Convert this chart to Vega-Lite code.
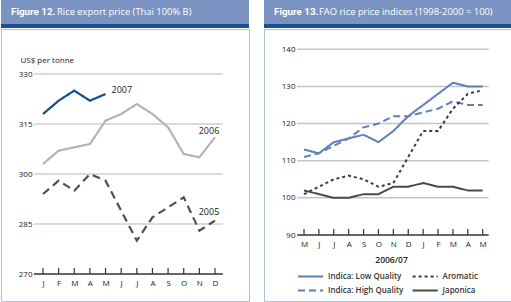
{
  "$schema": "https://vega.github.io/schema/vega-lite/v6.json",
  "padding": 0,
  "background": "white",
  "config": {
    "font": "Open Sans",
    "view": {"stroke": null},
    "axis": {"labelColor": "#222", "titleColor": "#222", "labelFont": "Open Sans", "titleFont": "Open Sans", "labelOverlap": false, "labelFlush": false, "domain": false, "ticks": false, "grid": false, "labelFontSize": 8},
    "legend": {"labelFont": "Open Sans"}
  },
  "resolve": {"scale": {"x": "independent", "y": "independent", "color": "independent", "strokeDash": "independent"}},
  "spacing": 13,
  "hconcat": [
    {
      "spacing": 0,
      "vconcat": [
        {
          "width": 248, "height": 24,
          "view": {"fill": "#7b93c3", "stroke": null},
          "data": {"values": [{"fig": "Figure 12.", "ttl": "Rice export price (Thai 100% B)"}]},
          "layer": [
            {"mark": {"type": "text", "align": "left", "baseline": "middle", "dx": 10, "font": "Roboto", "fontSize": 9.8, "fontWeight": "bold", "color": "white"},
             "encoding": {"text": {"field": "fig"}, "x": {"datum": 0, "type": "quantitative", "scale": {"domain": [0, 1]}, "axis": null}}},
            {"mark": {"type": "text", "align": "left", "baseline": "middle", "dx": 56, "fontSize": 9.4, "color": "white"},
             "encoding": {"text": {"field": "ttl"}, "x": {"datum": 0, "type": "quantitative", "axis": null}}}
          ]
        },
        {
          "width": 248, "height": 4,
          "view": {"fill": "#1c4f8d", "stroke": null},
          "data": {"values": [{"t": ""}]},
          "mark": {"type": "text", "fontSize": 0},
          "encoding": {"text": {"field": "t"}}
        },
        {
          "width": 248, "height": 272,
          "view": {"fill": "white", "stroke": "#a9c1da", "strokeWidth": 1},
          "data": {"values": [
            {"yr": "2007", "m": 0, "v": 318}, {"yr": "2007", "m": 1, "v": 322}, {"yr": "2007", "m": 2, "v": 325}, {"yr": "2007", "m": 3, "v": 322}, {"yr": "2007", "m": 4, "v": 324},
            {"yr": "2006", "m": 0, "v": 303}, {"yr": "2006", "m": 1, "v": 307}, {"yr": "2006", "m": 2, "v": 308}, {"yr": "2006", "m": 3, "v": 309}, {"yr": "2006", "m": 4, "v": 316}, {"yr": "2006", "m": 5, "v": 318},
            {"yr": "2006", "m": 6, "v": 321}, {"yr": "2006", "m": 7, "v": 318}, {"yr": "2006", "m": 8, "v": 314}, {"yr": "2006", "m": 9, "v": 306}, {"yr": "2006", "m": 10, "v": 305}, {"yr": "2006", "m": 11, "v": 311},
            {"yr": "2005", "m": 0, "v": 294}, {"yr": "2005", "m": 1, "v": 298}, {"yr": "2005", "m": 2, "v": 295}, {"yr": "2005", "m": 3, "v": 300}, {"yr": "2005", "m": 4, "v": 298}, {"yr": "2005", "m": 5, "v": 289},
            {"yr": "2005", "m": 6, "v": 280}, {"yr": "2005", "m": 7, "v": 287}, {"yr": "2005", "m": 8, "v": 290}, {"yr": "2005", "m": 9, "v": 293}, {"yr": "2005", "m": 10, "v": 283}, {"yr": "2005", "m": 11, "v": 286}
          ]},
          "layer": [
            {"data": {"values": [{"g": 285}, {"g": 300}, {"g": 315}, {"g": 330}]},
             "mark": {"type": "rule", "color": "#b8b8b8", "strokeWidth": 1},
             "encoding": {
               "y": {"field": "g", "type": "quantitative", "scale": {"domain": [261.9, 343.5], "nice": false, "zero": false},
                     "axis": {"values": [270,285,300,315,330], "offset": -33, "labelPadding": 2,
                              "title": "US$ per tonne", "titleAngle": 0, "titleAlign": "left", "titleBaseline": "alphabetic", "titleX": -14, "titleY": 33, "titleFontSize": 8, "titleFontWeight": "normal"}},
               "x": {"datum": -0.58, "type": "quantitative", "scale": {"domain": [-2.686, 13.175], "nice": false, "zero": false},
                     "axis": {"values": [0,1,2,3,4,5,6,7,8,9,10,11], "tickCount": 20, "labelOverlap": false, "labelExpr": "['J','F','M','A','M','J','J','A','S','O','N','D'][datum.value] || ''", "offset": -27, "labelPadding": 5, "title": null}},
               "x2": {"datum": 11.5}}},
            {"data": {"values": [{"g": 270}]},
             "mark": {"type": "rule", "color": "#333", "strokeWidth": 1.3},
             "encoding": {"y": {"field": "g", "type": "quantitative"}, "x": {"datum": -0.58}, "x2": {"datum": 11.5}}},
            {"transform": [{"filter": "datum.yr == '2006'"}],
             "mark": {"type": "rule", "color": "#333", "strokeWidth": 1.2},
             "encoding": {"x": {"field": "m", "type": "quantitative"}, "y": {"datum": 270}, "y2": {"datum": 271.8}}},
            {"mark": {"type": "line", "strokeWidth": 2.2},
             "encoding": {
               "x": {"field": "m", "type": "quantitative",
                     "axis": {"values": [0,1,2,3,4,5,6,7,8,9,10,11], "tickCount": 20, "labelOverlap": false, "labelExpr": "['J','F','M','A','M','J','J','A','S','O','N','D'][datum.value] || ''", "offset": -27, "labelPadding": 5, "title": null}},
               "y": {"field": "v", "type": "quantitative"},
               "color": {"field": "yr", "type": "nominal", "scale": {"domain": ["2007", "2006", "2005"], "range": ["#0f4e91", "#b4b4b4", "#505050"]}, "legend": null},
               "strokeDash": {"field": "yr", "type": "nominal", "scale": {"domain": ["2007", "2006", "2005"], "range": [[1, 0], [1, 0], [8, 5]]}, "legend": null}
             }},
            {"transform": [{"filter": "datum.yr == '2007' && datum.m == 4"}],
             "mark": {"type": "text", "align": "left", "baseline": "middle", "dx": 6, "dy": -4, "fontSize": 9, "color": "#222"},
             "encoding": {"x": {"field": "m", "type": "quantitative"}, "y": {"field": "v", "type": "quantitative"}, "text": {"field": "yr"}}},
            {"transform": [{"filter": "datum.yr == '2006' && datum.m == 11"}],
             "mark": {"type": "text", "align": "center", "baseline": "middle", "dx": -6, "dy": -6, "fontSize": 9, "color": "#222"},
             "encoding": {"x": {"field": "m", "type": "quantitative"}, "y": {"field": "v", "type": "quantitative"}, "text": {"field": "yr"}}},
            {"transform": [{"filter": "datum.yr == '2005' && datum.m == 11"}],
             "mark": {"type": "text", "align": "center", "baseline": "middle", "dx": -6, "dy": -9, "fontSize": 9, "color": "#222"},
             "encoding": {"x": {"field": "m", "type": "quantitative"}, "y": {"field": "v", "type": "quantitative"}, "text": {"field": "yr"}}}
          ]
        }
      ]
    },
    {
      "spacing": 0,
      "vconcat": [
        {
          "width": 249, "height": 24,
          "view": {"fill": "#7b93c3", "stroke": null},
          "data": {"values": [{"fig": "Figure 13.", "ttl": "FAO rice price indices (1998-2000 = 100)"}]},
          "layer": [
            {"mark": {"type": "text", "align": "left", "baseline": "middle", "dx": 10, "font": "Roboto", "fontSize": 9.8, "fontWeight": "bold", "color": "white"},
             "encoding": {"text": {"field": "fig"}, "x": {"datum": 0, "type": "quantitative", "scale": {"domain": [0, 1]}, "axis": null}}},
            {"mark": {"type": "text", "align": "left", "baseline": "middle", "dx": 55, "fontSize": 9.4, "color": "white"},
             "encoding": {"text": {"field": "ttl"}, "x": {"datum": 0, "type": "quantitative", "axis": null}}}
          ]
        },
        {
          "width": 249, "height": 4,
          "view": {"fill": "#1c4f8d", "stroke": null},
          "data": {"values": [{"t": ""}]},
          "mark": {"type": "text", "fontSize": 0},
          "encoding": {"text": {"field": "t"}}
        },
        {
          "width": 249, "height": 272,
          "view": {"fill": "white", "stroke": "#a9c1da", "strokeWidth": 1},
          "data": {"values": [
            {"q": "Indica: Low Quality", "m": 0, "v": 113}, {"q": "Indica: Low Quality", "m": 1, "v": 112}, {"q": "Indica: Low Quality", "m": 2, "v": 115}, {"q": "Indica: Low Quality", "m": 3, "v": 116}, {"q": "Indica: Low Quality", "m": 4, "v": 117}, {"q": "Indica: Low Quality", "m": 5, "v": 115}, {"q": "Indica: Low Quality", "m": 6, "v": 118}, {"q": "Indica: Low Quality", "m": 7, "v": 122}, {"q": "Indica: Low Quality", "m": 8, "v": 125}, {"q": "Indica: Low Quality", "m": 9, "v": 128}, {"q": "Indica: Low Quality", "m": 10, "v": 131}, {"q": "Indica: Low Quality", "m": 11, "v": 130}, {"q": "Indica: Low Quality", "m": 12, "v": 130},
            {"q": "Indica: High Quality", "m": 0, "v": 111}, {"q": "Indica: High Quality", "m": 1, "v": 112}, {"q": "Indica: High Quality", "m": 2, "v": 114}, {"q": "Indica: High Quality", "m": 3, "v": 116}, {"q": "Indica: High Quality", "m": 4, "v": 119}, {"q": "Indica: High Quality", "m": 5, "v": 120}, {"q": "Indica: High Quality", "m": 6, "v": 122}, {"q": "Indica: High Quality", "m": 7, "v": 122}, {"q": "Indica: High Quality", "m": 8, "v": 123}, {"q": "Indica: High Quality", "m": 9, "v": 124}, {"q": "Indica: High Quality", "m": 10, "v": 126}, {"q": "Indica: High Quality", "m": 11, "v": 125}, {"q": "Indica: High Quality", "m": 12, "v": 125},
            {"q": "Aromatic", "m": 0, "v": 101}, {"q": "Aromatic", "m": 1, "v": 103}, {"q": "Aromatic", "m": 2, "v": 105}, {"q": "Aromatic", "m": 3, "v": 106}, {"q": "Aromatic", "m": 4, "v": 105}, {"q": "Aromatic", "m": 5, "v": 103}, {"q": "Aromatic", "m": 6, "v": 104}, {"q": "Aromatic", "m": 7, "v": 111}, {"q": "Aromatic", "m": 8, "v": 118}, {"q": "Aromatic", "m": 9, "v": 118}, {"q": "Aromatic", "m": 10, "v": 124}, {"q": "Aromatic", "m": 11, "v": 128}, {"q": "Aromatic", "m": 12, "v": 129},
            {"q": "Japonica", "m": 0, "v": 102}, {"q": "Japonica", "m": 1, "v": 101}, {"q": "Japonica", "m": 2, "v": 100}, {"q": "Japonica", "m": 3, "v": 100}, {"q": "Japonica", "m": 4, "v": 101}, {"q": "Japonica", "m": 5, "v": 101}, {"q": "Japonica", "m": 6, "v": 103}, {"q": "Japonica", "m": 7, "v": 103}, {"q": "Japonica", "m": 8, "v": 104}, {"q": "Japonica", "m": 9, "v": 103}, {"q": "Japonica", "m": 10, "v": 103}, {"q": "Japonica", "m": 11, "v": 102}, {"q": "Japonica", "m": 12, "v": 102}
          ]},
          "layer": [
            {"data": {"values": [{"g": 100}, {"g": 110}, {"g": 120}, {"g": 130}, {"g": 140}]},
             "mark": {"type": "rule", "color": "#c4c4c4", "strokeWidth": 1.5},
             "encoding": {
               "y": {"field": "g", "type": "quantitative", "scale": {"domain": [72.23, 145.47], "nice": false, "zero": false},
                     "axis": {"values": [90,100,110,120,130,140], "offset": -33, "labelPadding": 2, "title": null}},
               "x": {"datum": -0.45, "type": "quantitative", "scale": {"domain": [-2.686, 14.035], "nice": false, "zero": false},
                     "axis": {"values": [0,1,2,3,4,5,6,7,8,9,10,11,12], "tickCount": 20, "labelOverlap": false, "labelExpr": "['M','J','J','A','S','O','N','D','J','F','M','A','M'][datum.value] || ''", "offset": -66, "labelPadding": 5,
                              "title": "2006/07", "titleFontSize": 8.5, "titleFontWeight": 600, "titlePadding": 7, "titleX": 127}},
               "x2": {"datum": 12.4}}},
            {"data": {"values": [{"g": 90}]},
             "mark": {"type": "rule", "color": "#333", "strokeWidth": 1.3},
             "encoding": {"y": {"field": "g", "type": "quantitative"}, "x": {"datum": -0.45}, "x2": {"datum": 12.4}}},
            {"transform": [{"filter": "datum.q == 'Japonica'"}],
             "mark": {"type": "rule", "color": "#333", "strokeWidth": 1.2},
             "encoding": {"x": {"field": "m", "type": "quantitative"}, "y": {"datum": 90}, "y2": {"datum": 91.6}}},
            {"mark": {"type": "line", "strokeWidth": 2},
             "encoding": {
               "x": {"field": "m", "type": "quantitative",
                     "axis": {"values": [0,1,2,3,4,5,6,7,8,9,10,11,12], "tickCount": 20, "labelOverlap": false, "labelExpr": "['M','J','J','A','S','O','N','D','J','F','M','A','M'][datum.value] || ''", "offset": -66, "labelPadding": 5,
                              "title": "2006/07", "titleFontSize": 8.5, "titleFontWeight": 600, "titlePadding": 7, "titleX": 127}},
               "y": {"field": "v", "type": "quantitative"},
               "color": {"field": "q", "type": "nominal",
                         "scale": {"domain": ["Indica: Low Quality", "Indica: High Quality", "Aromatic", "Japonica"], "range": ["#5b80c0", "#5b80c0", "#3c3c3c", "#4a4a4a"]},
                         "legend": {"orient": "none", "legendX": 36.6, "legendY": 266.5, "columns": 2, "title": null, "symbolType": "M-1.4,0H1.4", "symbolSize": 324, "symbolStrokeWidth": 2, "labelFontSize": 8, "labelFontWeight": 600, "labelColor": "#333", "labelOffset": 7.4, "rowPadding": 0, "columnPadding": 4.6}},
               "strokeDash": {"field": "q", "type": "nominal",
                              "scale": {"domain": ["Indica: Low Quality", "Indica: High Quality", "Aromatic", "Japonica"], "range": [[1, 0], [7, 4], [3, 3], [1, 0]]}}
             }}
          ]
        }
      ]
    }
  ]
}
